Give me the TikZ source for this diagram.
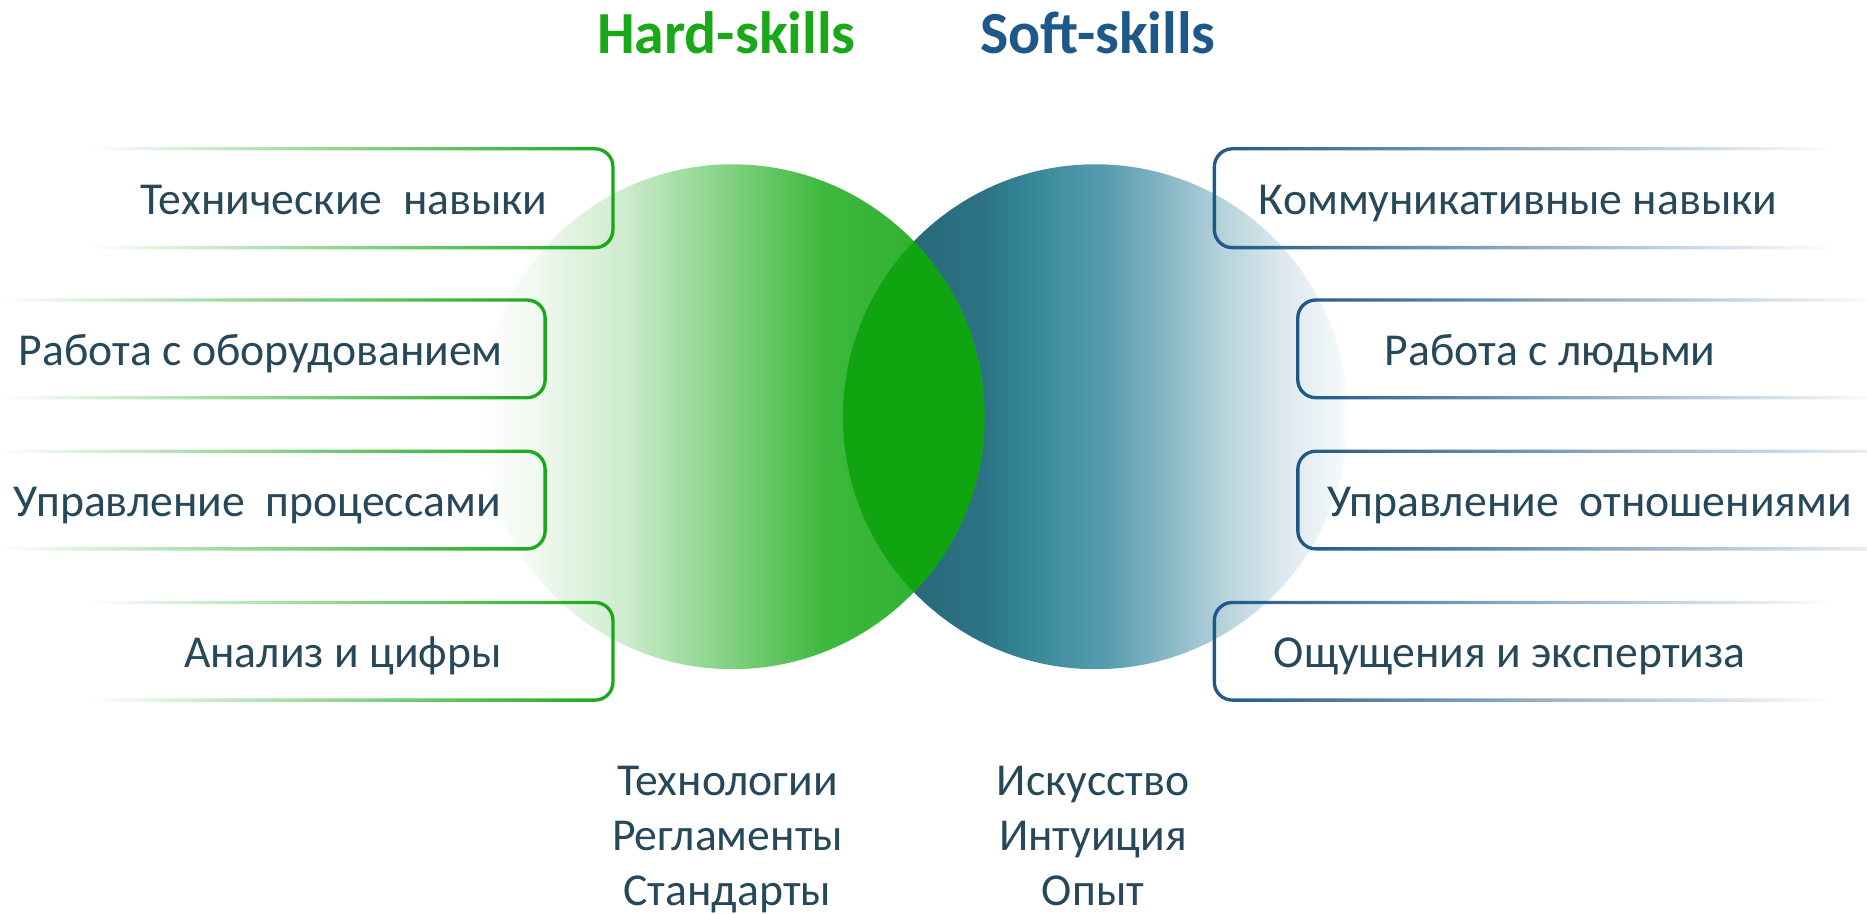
\documentclass[tikz,border=0pt]{standalone}
\usepackage{fontspec}
\setmainfont{Carlito}
\usetikzlibrary{fadings}

\definecolor{hardgreen}{RGB}{24,168,24}
\definecolor{softblue}{RGB}{30,88,136}
\definecolor{textteal}{RGB}{38,72,90}
\definecolor{lensgreen}{RGB}{16,164,16}
% green circle stops
\definecolor{hg1}{RGB}{240,248,240}
\definecolor{hg2}{RGB}{205,236,205}
\definecolor{hg3}{RGB}{143,214,143}
\definecolor{hg4}{RGB}{61,184,61}
\definecolor{hg5}{RGB}{40,173,40}
% blue circle stops
\definecolor{sb0}{RGB}{36,96,112}
\definecolor{sb1}{RGB}{45,115,133}
\definecolor{sb2}{RGB}{51,133,149}
\definecolor{sb3}{RGB}{90,158,176}
\definecolor{sb4}{RGB}{138,184,198}
\definecolor{sb5}{RGB}{185,212,220}
\definecolor{sb6}{RGB}{221,233,238}
\definecolor{sb7}{RGB}{244,248,250}

\pgfdeclarehorizontalshading{hardfade}{100bp}{color(0bp)=(white); color(25bp)=(white);
  color(30.7bp)=(hg1); color(39.3bp)=(hg2); color(47.8bp)=(hg3); color(59.1bp)=(hg4);
  color(75bp)=(hg5); color(100bp)=(hg5)}
\pgfdeclarehorizontalshading{softfade}{100bp}{color(0bp)=(sb0); color(25bp)=(sb0);
  color(39bp)=(sb1); color(43bp)=(sb2); color(51.5bp)=(sb3); color(57.3bp)=(sb4);
  color(63bp)=(sb5); color(68.6bp)=(sb6); color(74.3bp)=(sb7); color(75bp)=(white); color(100bp)=(white)}

\tikzfading[name=fadein, left color=transparent!100, middle color=transparent!30, right color=transparent!0]
\tikzfading[name=fadeout, left color=transparent!0, middle color=transparent!30, right color=transparent!100]

\tikzset{
  skilltext/.style={font=\fontsize{26}{31.5}\selectfont, text=textteal, anchor=base, inner sep=0pt},
  headtext/.style={font=\fontsize{34}{36}\selectfont\bfseries, anchor=base, inner sep=0pt},
  hardbox/.style={draw=hardgreen, line width=1.9pt, rounded corners=0.36cm, path fading=fadein},
  softbox/.style={draw=softblue, line width=1.9pt, rounded corners=0.36cm, path fading=fadeout},
}

\begin{document}
\begin{tikzpicture}[x=0.023814cm, y=-0.023814cm]
\useasboundingbox (0,0) rectangle (1568,767.6);

% circles
\shade[shading=softfade] (920,350) circle[radius=5.05cm];
\shade[shading=hardfade] (615,350) circle[radius=5.05cm];
\begin{scope}
\clip (615,350) circle[radius=5.05cm];
\fill[lensgreen] (920,350) circle[radius=5.05cm];
\end{scope}

% titles
\node[headtext, text=hardgreen] (hard) at (610,45) {Hard-skills};
\node[headtext, text=softblue] (soft) at (922,45) {Soft-skills};

% hard-skills boxes
\draw[hardbox] (75,125) -- (515,125) -- (515,208) -- (75,208);
\draw[hardbox] (0,252) -- (458,252) -- (458,334) -- (0,334);
\draw[hardbox] (0,379) -- (458,379) -- (458,461) -- (0,461);
\draw[hardbox] (75,506) -- (515,506) -- (515,588) -- (75,588);

\node[skilltext] (technical) at (289,180) {Технические\ \ навыки};
\node[skilltext] (equipment) at (219,307) {Работа с оборудованием};
\node[skilltext] (processes) at (216,434) {Управление\ \ процессами};
\node[skilltext] (analysis) at (288,561) {Анализ и цифры};

% soft-skills boxes
\draw[softbox] (1540,125) -- (1020,125) -- (1020,208) -- (1540,208);
\draw[softbox] (1580,252) -- (1090,252) -- (1090,334) -- (1580,334);
\draw[softbox] (1620,379) -- (1090,379) -- (1090,461) -- (1620,461);
\draw[softbox] (1540,506) -- (1020,506) -- (1020,588) -- (1540,588);

\node[skilltext] (communication) at (1275,180) {Коммуникативные навыки};
\node[skilltext] (people) at (1302,307) {Работа с людьми};
\node[skilltext] (relations) at (1335,434) {Управление\ \ отношениями};
\node[skilltext] (expertise) at (1268,561) {Ощущения и экспертиза};

% lists under the circles
\node[skilltext, align=center, anchor=north] (hardlist) at (611,643) {Технологии\\Регламенты\\Стандарты};
\node[skilltext, align=center, anchor=north] (softlist) at (918,643) {Искусство\\Интуиция\\Опыт};
\end{tikzpicture}
\end{document}
